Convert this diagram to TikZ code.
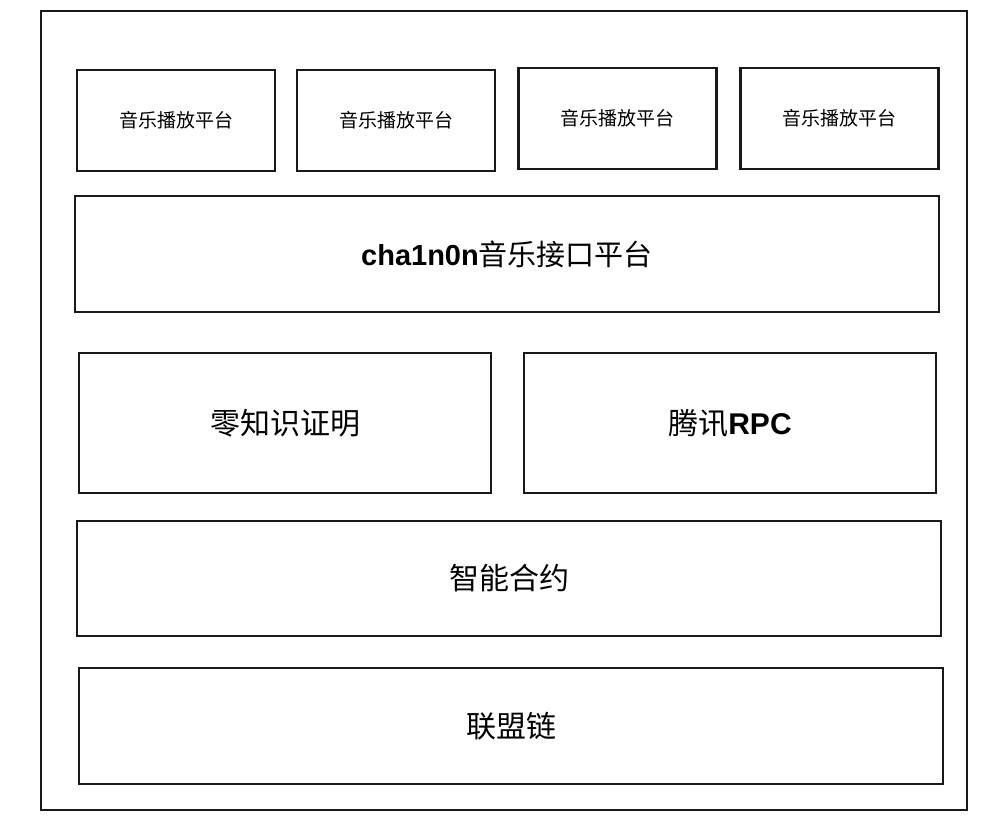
\documentclass[tikz,border=0pt]{standalone}
\usepackage{fontspec}
\setmainfont{Liberation Sans}
\newfontfamily\cjk{Noto Sans CJK SC}
\begin{document}
\begin{tikzpicture}[x=0.75pt,y=-0.75pt,
  blk/.style={draw=black!90, line width=2.2pt, inner sep=0pt, fill=white},
  small/.style={font=\fontsize{14.25pt}{16pt}\selectfont},
  mid/.style={font=\fontsize{21.75pt}{24pt}\selectfont},
  big/.style={font=\fontsize{22.5pt}{25pt}\selectfont},
  topbox/.style={blk, small, minimum width=148.5pt, minimum height=75.75pt},
  widebox/.style={blk, minimum width=648pt, minimum height=87pt},
  halfbox/.style={blk, big, minimum width=309pt, minimum height=105pt}]
\useasboundingbox[fill=white] (0,0) rectangle (989,826);
\node[blk, minimum width=694.5pt, minimum height=599.25pt] (frame) at (504,410.5) {};
\node[topbox] (p1) at (176,120.5) {\cjk 音乐播放平台};
\node[topbox] (p2) at (396,120.5) {\cjk 音乐播放平台};
\node[topbox] (p3) at (617.5,118.5) {\cjk 音乐播放平台};
\node[topbox] (p4) at (839.5,118.5) {\cjk 音乐播放平台};
\node[widebox, mid] (api) at (507,254) {\textbf{cha1n0n}{\cjk 音乐接口平台}};
\node[halfbox] (zk) at (285,423) {\cjk 零知识证明};
\node[halfbox] (rpc) at (730,423) {{\cjk 腾讯}\textbf{RPC}};
\node[widebox, big, minimum height=86.25pt] (sc) at (509,578.5) {\cjk 智能合约};
\node[widebox, big] (chain) at (511,726) {\cjk 联盟链};
\end{tikzpicture}
\end{document}
